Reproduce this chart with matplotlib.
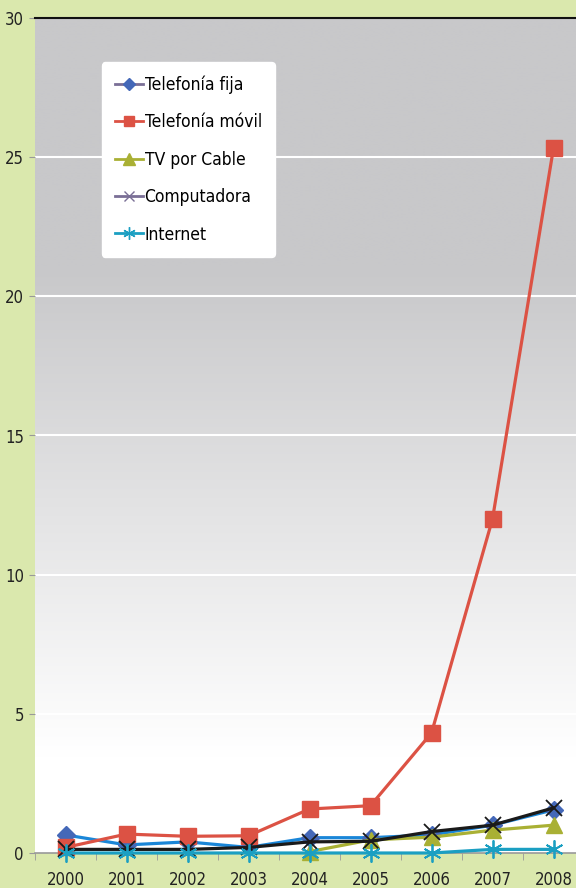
import numpy as np
import matplotlib
matplotlib.use("Agg")
import matplotlib.pyplot as plt
from matplotlib.lines import Line2D

plt.rcParams['font.family'] = ['DejaVu Sans']
plt.rcParams['font.stretch'] = 'condensed'

anios = ["2000", "2001", "2002", "2003", "2004", "2005", "2006", "2007", "2008"]
telefonia_fija = [0.65, 0.29, 0.40, 0.20, 0.55, 0.55, 0.65, 1.00, 1.55]
telefonia_movil = [0.20, 0.68, 0.60, 0.62, 1.58, 1.70, 4.31, 12.0, 25.33]
tv_cable = [np.nan, np.nan, np.nan, np.nan, 0.05, 0.47, 0.57, 0.82, 1.00]
computadora = [0.13, 0.13, 0.13, 0.20, 0.40, 0.42, 0.77, 1.00, 1.62]
internet = [0.0, 0.0, 0.0, 0.0, 0.0, 0.0, 0.0, 0.13, 0.13]
yticks = [0, 5, 10, 15, 20, 25, 30]

verde = "#dae8ad"
fig = plt.figure(figsize=(5.76, 8.88), dpi=100, facecolor=verde)
ax = fig.add_axes([35/576, 35/888, 549/576, 835/888])

x = np.arange(len(anios))

# fondo degradado gris -> blanco
v = np.linspace(0, 30, 300)
t = np.clip((v - 3.5) / (21 - 3.5), 0, 1)
gris = np.array([200, 200, 202]) / 255
col = (1 - t)[:, None] * np.ones(3) + t[:, None] * gris
ax.imshow(col[:, None, :], extent=[-0.5, 8.5, 0, 30], origin="lower",
          aspect="auto", zorder=0, interpolation="bilinear")

for yv in yticks[1:-1]:
    ax.axhline(yv, color="white", lw=1.5, zorder=1)

ax.plot(x, telefonia_fija, color="#1a86d8", lw=2.3, marker="D", ms=9,
        mfc="#4468b8", mec="#4468b8", zorder=3, clip_on=False)
ax.plot(x, telefonia_movil, color="#dc5244", lw=2.3, marker="s", ms=11,
        mfc="#dc5244", mec="#dc5244", zorder=4, clip_on=False)
ax.plot(x, tv_cable, color="#a9b034", lw=2.3, marker="^", ms=11,
        mfc="#a9b034", mec="#a9b034", zorder=3, clip_on=False)
ax.plot(x, computadora, color="#1a1a1a", lw=2.3, marker="x", ms=11,
        mew=1.3, zorder=5, clip_on=False)
ax.plot(x, internet, color="#1b9fc2", lw=2.3, marker=(6, 2, 0), ms=13,
        mew=1.3, mec="#1b9fc2", zorder=6, clip_on=False)

ax.set_xlim(-0.5, 8.5)
ax.set_ylim(0, 30)
ax.set_yticks(yticks)
ax.set_yticklabels([str(y) for y in yticks], fontsize=12, color="#222222")
ax.set_xticks(x)
ax.set_xticklabels(anios, fontsize=12, color="#222222")
ax.set_xticks(np.arange(-0.5, 9, 1), minor=True)
ax.tick_params(axis="x", which="major", length=0, pad=13)
ax.tick_params(axis="x", which="minor", length=5, color="#999999")
ax.tick_params(axis="y", length=4, color="#999999", pad=4)

for s in ["left", "right"]:
    ax.spines[s].set_visible(False)
ax.spines["bottom"].set_color("#999999")
ax.spines["bottom"].set_linewidth(1.2)
ax.spines["top"].set_color("#111111")
ax.spines["top"].set_linewidth(1.5)

leyenda_col = "#7a6f96"
handles = [
    Line2D([], [], color=leyenda_col, lw=2, marker="D", ms=6, mfc="#4468b8", mec="#4468b8"),
    Line2D([], [], color="#dc5244", lw=2, marker="s", ms=7, mfc="#dc5244", mec="#dc5244"),
    Line2D([], [], color="#a9b034", lw=2, marker="^", ms=8, mfc="#a9b034", mec="#a9b034"),
    Line2D([], [], color=leyenda_col, lw=2, marker="x", ms=7, mec=leyenda_col),
    Line2D([], [], color="#1b9fc2", lw=2, marker=(6, 2, 0), ms=9, mec="#1b9fc2"),
]
etiquetas = ["Telefonía fija", "Telefonía móvil", "TV por Cable", "Computadora", "Internet"]
leg = ax.legend(handles, etiquetas, loc="upper left", bbox_to_anchor=(0.122, 0.947),
                borderaxespad=0, fontsize=12.5, frameon=True, fancybox=True,
                facecolor="white", edgecolor="white", framealpha=1,
                handlelength=1.6, handletextpad=0.1, labelspacing=1.12,
                borderpad=0.75)
leg.set_zorder(10)

fig.savefig("out.png", dpi=100, facecolor=verde)
